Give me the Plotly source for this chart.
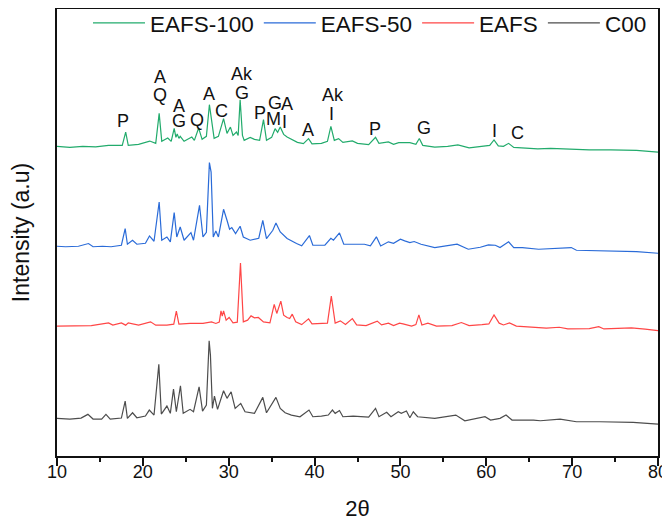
import plotly.graph_objects as go

# ---------------- data ----------------
two_theta_eafs100 = [10.0, 11.5, 13.0, 14.5, 16.0, 17.6, 18.0, 18.3, 19.5, 20.8, 21.5, 21.9, 22.2, 22.9, 23.3,
                     23.65, 23.85, 24.0, 24.2, 24.35, 24.8, 25.7, 26.0, 26.5, 26.9, 27.4, 27.75, 28.0, 28.3, 28.8,
                     29.4, 29.8, 30.2, 30.5, 30.9, 31.1, 31.33, 31.6, 31.8, 32.5, 33.0, 33.6, 34.05, 34.4, 35.0,
                     35.4, 35.7, 36.0, 36.4, 36.8, 37.35, 38.0, 38.7, 39.3, 39.7, 40.8, 41.5, 41.9, 42.3, 42.8,
                     43.3, 44.4, 45.0, 46.3, 47.1, 47.5, 48.6, 49.2, 49.8, 50.5, 51.1, 51.8, 52.2, 52.6, 54.0,
                     55.5, 56.7, 58.0, 59.5, 60.4, 60.9, 61.4, 62.0, 62.6, 63.2, 64.2, 66.0, 67.5, 69.6, 72.0,
                     74.5, 77.5, 80.0]
int_eafs100 = [3100, 3090, 3100, 3095, 3110, 3110, 3243, 3110, 3120, 3153, 3130, 3430, 3150, 3183, 3150,
               3280, 3190, 3223, 3180, 3200, 3150, 3193, 3160, 3283, 3170, 3200, 3517, 3380, 3180, 3200,
               3377, 3230, 3293, 3210, 3243, 3210, 3567, 3210, 3160, 3190, 3170, 3160, 3367, 3160, 3190,
               3277, 3240, 3293, 3220, 3193, 3170, 3140, 3127, 3177, 3125, 3130, 3150, 3300, 3160, 3177,
               3140, 3154, 3130, 3117, 3190, 3130, 3144, 3120, 3137, 3135, 3137, 3120, 3178, 3110, 3093,
               3100, 3114, 3085, 3100, 3110, 3164, 3105, 3100, 3130, 3090, 3087, 3075, 3080, 3070, 3065,
               3065, 3060, 3043]

two_theta_eafs50 = [10.0, 11.0, 12.5, 13.67, 14.2, 15.3, 16.3, 17.5, 17.94, 18.2, 18.8, 19.3, 20.3, 20.77, 21.3,
                    21.9, 22.2, 22.8, 23.2, 23.65, 23.95, 24.35, 24.8, 25.6, 25.9, 26.6, 27.0, 27.4, 27.75, 27.95,
                    28.2, 28.5, 28.8, 29.4, 29.8, 30.1, 30.36, 30.8, 31.33, 31.7, 32.5, 33.5, 33.97, 34.4, 35.14,
                    35.5, 36.0, 36.8, 37.9, 38.5, 39.4, 39.8, 41.2, 41.9, 42.2, 42.9, 43.4, 44.6, 45.8, 46.5,
                    47.2, 47.7, 48.6, 49.2, 49.7, 50.0, 50.5, 51.1, 51.6, 52.4, 54.0, 55.3, 56.6, 57.9, 59.3,
                    60.25, 61.05, 61.6, 62.6, 63.2, 64.2, 66.1, 68.1, 69.9, 70.5, 73.6, 77.5, 80.0]
int_eafs50 = [2100, 2095, 2100, 2127, 2095, 2100, 2095, 2110, 2277, 2120, 2160, 2120, 2130, 2203, 2150,
              2543, 2160, 2193, 2143, 2437, 2193, 2293, 2160, 2237, 2160, 2510, 2193, 2240, 2937, 2843,
              2193, 2253, 2193, 2470, 2360, 2270, 2287, 2227, 2300, 2193, 2160, 2180, 2360, 2177, 2260,
              2333, 2243, 2177, 2127, 2105, 2207, 2110, 2110, 2180, 2160, 2234, 2120, 2120, 2120, 2105,
              2194, 2103, 2144, 2130, 2160, 2170, 2154, 2137, 2147, 2120, 2087, 2100, 2120, 2070, 2090,
              2114, 2110, 2087, 2144, 2087, 2087, 2070, 2076, 2087, 2060, 2053, 2046, 2030]

two_theta_eafs = [10.0, 12.0, 14.0, 16.0, 16.5, 17.5, 18.0, 18.3, 19.5, 20.9, 21.5, 22.8, 23.6, 23.9, 24.2,
                  25.5, 27.0, 28.0, 28.5, 28.9, 29.1, 29.25, 29.4, 29.7, 30.05, 30.5, 31.0, 31.37, 31.7, 32.2,
                  32.6, 33.0, 33.45, 34.05, 34.8, 35.3, 35.6, 36.07, 36.4, 36.8, 37.1, 37.4, 37.8, 38.5, 39.3,
                  39.7, 40.8, 41.5, 41.95, 42.4, 43.0, 43.6, 44.4, 44.9, 46.0, 47.3, 47.8, 48.6, 49.2, 49.9,
                  50.3, 51.3, 51.8, 52.15, 52.5, 53.2, 54.2, 56.0, 57.1, 58.0, 59.5, 60.3, 60.9, 61.5, 62.0,
                  62.7, 63.5, 65.75, 67.0, 68.5, 69.5, 72.0, 73.1, 73.7, 76.9, 78.5, 80.0]
int_eafs = [1300, 1300, 1305, 1333, 1310, 1333, 1310, 1333, 1310, 1343, 1310, 1310, 1320, 1450, 1320,
            1327, 1327, 1343, 1327, 1340, 1453, 1400, 1453, 1360, 1387, 1333, 1340, 1933, 1343, 1360,
            1403, 1383, 1387, 1343, 1333, 1517, 1427, 1550, 1410, 1387, 1377, 1420, 1343, 1315, 1373,
            1322, 1325, 1330, 1600, 1330, 1353, 1316, 1375, 1312, 1305, 1350, 1312, 1330, 1305, 1330,
            1322, 1300, 1315, 1413, 1312, 1330, 1300, 1305, 1336, 1305, 1315, 1322, 1413, 1330, 1312,
            1332, 1300, 1289, 1280, 1289, 1272, 1275, 1295, 1272, 1282, 1270, 1255]

two_theta_c00 = [10.0, 11.5, 12.8, 13.6, 14.2, 15.2, 15.7, 16.2, 17.5, 17.94, 18.2, 18.8, 19.3, 20.3, 20.75,
                 21.3, 21.86, 22.15, 22.8, 23.2, 23.57, 23.9, 24.38, 24.7, 25.5, 25.9, 26.55, 26.95, 27.4, 27.72,
                 27.87, 28.1, 28.34, 28.7, 29.4, 29.8, 30.28, 30.75, 31.4, 31.9, 33.0, 33.97, 34.4, 35.0, 35.5,
                 36.0, 36.57, 37.3, 38.3, 39.35, 39.8, 40.8, 41.6, 42.08, 42.4, 42.9, 43.3, 44.5, 46.3, 47.1,
                 47.5, 48.4, 48.9, 49.75, 50.1, 50.7, 51.1, 51.5, 52.0, 54.0, 56.45, 57.5, 59.85, 60.5, 61.6,
                 62.3, 63.0, 65.5, 66.3, 68.6, 70.5, 73.2, 77.1, 80.0]
int_c00 = [377, 370, 380, 417, 370, 370, 417, 370, 380, 550, 377, 433, 383, 400, 460,
           410, 917, 420, 500, 427, 670, 443, 703, 427, 467, 443, 693, 450, 510, 1153,
           1010, 477, 600, 467, 653, 577, 643, 477, 527, 443, 427, 587, 433, 510, 587,
           477, 433, 410, 393, 460, 393, 400, 410, 460, 427, 455, 393, 400, 390, 477,
           393, 437, 393, 443, 427, 450, 383, 443, 393, 377, 410, 353, 393, 360, 377,
           410, 360, 360, 353, 370, 343, 343, 337, 320]

series_names = ["EAFS-100", "EAFS-50", "EAFS", "C00"]

# phase labels above the EAFS-100 pattern
label_text = ["P", "A", "Q", "A", "G", "Q", "A", "C", "Ak", "G", "P", "G", "A", "M", "I",
              "A", "Ak", "I", "P", "G", "I", "C"]
label_2theta = [17.74, 22.02, 22.02, 24.23, 24.23, 26.29, 27.76, 29.2, 31.6, 31.6, 33.66, 35.44, 36.77, 35.2, 36.49,
                39.28, 42.19, 41.92, 47.05, 52.75, 60.97, 63.58]
label_int = [3350, 3793, 3610, 3503, 3350, 3360, 3627, 3453, 3820, 3633, 3437, 3533, 3527, 3377, 3343,
             3260, 3610, 3427, 3270, 3282, 3255, 3238]

x_ticks = [10, 20, 30, 40, 50, 60, 70, 80]

# ---------------- figure ----------------
FONT = "Arial, 'Liberation Sans', sans-serif"
colors = ["#22ab6c", "#2a6bd8", "#ff4646", "#4d4d4d"]
xs = [two_theta_eafs100, two_theta_eafs50, two_theta_eafs, two_theta_c00]
ys = [int_eafs100, int_eafs50, int_eafs, int_c00]

fig = go.Figure()
for name, x, y, c in zip(series_names, xs, ys, colors):
    fig.add_trace(go.Scatter(x=x, y=y, mode="lines", name=name,
                             line=dict(color=c, width=1.2)))

for t, xv, yv in zip(label_text, label_2theta, label_int):
    fig.add_annotation(x=xv, y=yv, xref="x", yref="y", text=t, showarrow=False,
                       font=dict(family=FONT, size=18, color="#111111"))

# the page body has an 8px default margin, so the figure is sized to fit the window
fig.update_layout(
    width=662, height=516,
    margin=dict(l=49, r=12, t=1, b=68, autoexpand=False),
    paper_bgcolor="white", plot_bgcolor="white",
    font=dict(family=FONT, color="#111111"),
    showlegend=True,
    legend=dict(orientation="h", x=0.99, xanchor="right", y=1.016, yanchor="top",
                bgcolor="rgba(0,0,0,0)", font=dict(family=FONT, size=22.5),
                itemwidth=52, tracegroupgap=0),
    xaxis=dict(range=[10, 80], tickvals=x_ticks, ticks="outside", ticklen=8, tickwidth=1.5,
               tickcolor="#111111", showline=True, linecolor="#111111", linewidth=2, mirror=True,
               showgrid=False, zeroline=False, automargin=False,
               tickfont=dict(family=FONT, size=18), ticklabelstandoff=-10,
               minor=dict(dtick=5, tick0=10, ticks="outside", ticklen=4, tickwidth=1.5, tickcolor="#111111"),
               title=dict(text="2θ", font=dict(family=FONT, size=22), standoff=20)),
    yaxis=dict(range=[0, 4475], showticklabels=False, ticks="", showline=True, linecolor="#111111",
               linewidth=2, mirror=True, showgrid=False, zeroline=False, automargin=False,
               title=dict(text="Intensity (a.u)", font=dict(family=FONT, size=23), standoff=21)),
)

fig.write_html("out.html")
